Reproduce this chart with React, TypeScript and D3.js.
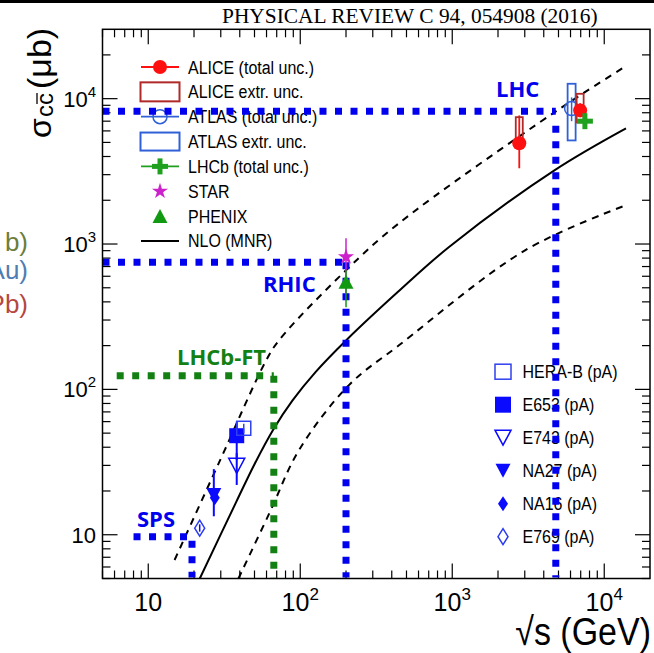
import React from 'react';
import * as d3 from 'd3';

const W = 654;
const H = 653;

// NLO (MNR) curves: [sqrt(s) GeV, sigma_cc µb]
const nloCentral: [number, number][] = [[21.8, 4.98], [38, 16.9], [50.1, 30.7], [66.5, 53], [89, 84], [126, 131.5], [200, 217], [436, 465], [948, 950], [4700, 3210], [13900, 6240]];
const nloUpper: [number, number][] = [[14.9, 6.7], [29.4, 31.8], [59.8, 159], [72.8, 219], [200, 660], [446, 1390], [4780, 8150], [13700, 16600]];
const nloLower: [number, number][] = [[39.2, 5.0], [62.7, 14.1], [98.4, 38.4], [209, 107], [446, 201], [3030, 908], [13900, 1850]];

// Collider data
const aliceData = [
  { s: 2760, v: 4930, lo: 3320, hi: 7670, bLo: 4650, bHi: 7460 },
  { s: 6940, v: 8300, lo: 7500, hi: 9300, bLo: 6860, bHi: 10800 },
];
const atlasData = [{ s: 6100, v: 8560, lo: 7000, hi: 10200, bLo: 5160, bHi: 12660 }];
const lhcbData = [{ s: 7460, v: 7000, lo: 6300, hi: 7800 }];
const starData = [{ s: 200, v: 815, lo: 459, hi: 1096 }];
const phenixData = [{ s: 200, v: 549, lo: 368, hi: 660 }];

// Fixed-target pA data
const heraB = [{ s: 42.5, v: 54, lo: 50, hi: 58 }];
const e653 = [{ s: 38.2, v: 48, lo: 32.7, hi: 60 }];
const e743 = [{ s: 38.2, v: 29.8, lo: 22, hi: 36.4 }];
const na27 = [{ s: 27, v: 18.8, lo: 13.4, hi: 28.3 }];
const na16 = [{ s: 27.4, v: 18, lo: 16, hi: 20 }];
const e769 = [{ s: 21.8, v: 11.1, lo: 10.5, hi: 11.8 }];

// Energy-regime guide lines
const guideNames = ['LHC', 'RHIC', 'LHCb-FT', 'SPS'];
const guideLeft = [5, 5, 6.2, 8];
const guideEnergy = [4800, 200, 67, 19.4];
const guideSigma = [8200, 750, 124, 9.7];
const guideVTop = [6500, 750, 124, 9.1];

const legend1 = ['ALICE (total unc.)', 'ALICE extr. unc.', 'ATLAS (total unc.)', 'ATLAS extr. unc.', 'LHCb (total unc.)', 'STAR', 'PHENIX', 'NLO (MNR)'];
const legend2 = ['HERA-B (pA)', 'E653 (pA)', 'E743 (pA)', 'NA27 (pA)', 'NA16 (pA)', 'E769 (pA)'];

const sideTexts = ['b)', '(Au-Au)', '(Pb-Pb)'];

const xMajor = [10, 100, 1000, 10000];
const yMajor = [10, 100, 1000, 10000];
const xTickExp = ['', '2', '3', '4'];
const yTickExp = ['', '2', '3', '4'];

const RED = '#ff1010';
const DARKRED = '#b02a2a';
const ATLASBLUE = '#3060d8';
const LHCBGREEN = '#1fa01f';
const STARMAG = '#cc22cc';
const PHENIXGREEN = '#119911';
const PABLUE = '#0a0aff';
const GBLUE = '#0000ee';
const GGREEN = '#138013';
const SANS = '"Liberation Sans", Arial, Helvetica, sans-serif';

const triPath = (cx: number, cy: number, w: number, h: number, down: boolean) =>
  down
    ? `M${cx - w / 2},${cy - h / 2}L${cx + w / 2},${cy - h / 2}L${cx},${cy + h / 2}Z`
    : `M${cx - w / 2},${cy + h / 2}L${cx + w / 2},${cy + h / 2}L${cx},${cy - h / 2}Z`;
const diaPath = (cx: number, cy: number, w: number, h: number) =>
  `M${cx},${cy - h / 2}L${cx + w / 2},${cy}L${cx},${cy + h / 2}L${cx - w / 2},${cy}Z`;

function Marker({ kind, cx, cy }: { kind: string; cx: number; cy: number }) {
  switch (kind) {
    case 'alice':
      return <circle cx={cx} cy={cy} r={7} fill={RED} />;
    case 'atlas':
      return <circle cx={cx} cy={cy} r={7} fill="none" stroke={ATLASBLUE} strokeWidth={1.5} />;
    case 'lhcb':
      return (
        <g stroke={LHCBGREEN} strokeWidth={5}>
          <line x1={cx - 8} x2={cx + 8} y1={cy} y2={cy} />
          <line x1={cx} x2={cx} y1={cy - 8} y2={cy + 8} />
        </g>
      );
    case 'star':
      return <path d={d3.symbol().type(d3.symbolStar).size(80)()!} transform={`translate(${cx},${cy})`} fill={STARMAG} />;
    case 'phenix':
      return <path d={triPath(cx, cy, 15, 14, false)} fill={PHENIXGREEN} />;
    case 'heraB':
      return <rect x={cx - 7} y={cy - 7} width={14} height={14} fill="none" stroke="#3040f0" strokeWidth={1.5} />;
    case 'heraBLeg':
      return <rect x={cx - 8} y={cy - 7.5} width={16} height={15} fill="none" stroke="#3040f0" strokeWidth={1.5} />;
    case 'e653':
      return <rect x={cx - 7.5} y={cy - 7.5} width={15} height={15} fill={PABLUE} />;
    case 'e653Leg':
      return <rect x={cx - 8} y={cy - 8} width={16} height={16} fill={PABLUE} />;
    case 'e743':
      return <path d={triPath(cx, cy, 16, 15, true)} fill="none" stroke={PABLUE} strokeWidth={1.5} />;
    case 'na27':
      return <path d={triPath(cx, cy, 15, 14, true)} fill={PABLUE} />;
    case 'na16':
      return <path d={diaPath(cx, cy, 10, 15)} fill={PABLUE} />;
    case 'e769':
      return <path d={diaPath(cx, cy, 10, 16)} fill="none" stroke="#2a3cf0" strokeWidth={1.5} />;
    default:
      return null;
  }
}

export default function App() {
  const x = d3.scaleLog().domain([5, 2e4]).range([102.5, 650]);
  const y = d3.scaleLog().domain([5, 3e4]).range([578.5, 29.3]);
  const [x0, x1] = x.range();
  const [y0, y1] = y.range();
  const line = d3
    .line<[number, number]>()
    .x((d) => x(d[0]))
    .y((d) => y(d[1]))
    .curve(d3.curveCatmullRom.alpha(0.5));

  const xMinor: number[] = [];
  const yMinor: number[] = [];
  for (const dec of [1, 10, 100, 1000, 10000]) {
    for (let m = 2; m <= 9; m++) {
      const v = m * dec;
      if (v > 5 && v < 2e4) xMinor.push(v);
      if (v > 5 && v < 3e4) yMinor.push(v);
    }
  }
  xMinor.push(5);
  yMinor.push(5);

  const MAJ = 15;
  const MIN = 8;

  const errBar = (d: { s: number; lo: number; hi: number }, color: string, w = 2) => (
    <line x1={x(d.s)} x2={x(d.s)} y1={y(d.lo)} y2={y(d.hi)} stroke={color} strokeWidth={w} />
  );

  const leg1Kinds = ['alice', 'aliceBox', 'atlas', 'atlasBox', 'lhcb', 'star', 'phenix', 'nlo'];
  const leg1Line = [RED, null, ATLASBLUE, null, LHCBGREEN, null, null, '#000'];
  const leg2Kinds = ['heraBLeg', 'e653Leg', 'e743', 'na27', 'na16', 'e769'];

  const guideColors = [GBLUE, GBLUE, GGREEN, GBLUE];
  const labelPos = [
    [496, 97],
    [263, 291.5],
    [177, 365],
    [137, 527],
  ];
  const sideColors = ['#6b7d3b', '#4f7db3', '#b5473f'];
  const sideY = [251, 279, 313];

  return (
    <svg width={W} height={H} style={{ position: 'absolute', left: 0, top: 0, background: '#fff' }} fontFamily={SANS}>
      <defs>
        <clipPath id="plotClip">
          <rect x={x0} y={y1} width={x1 - x0} height={y0 - y1} />
        </clipPath>
      </defs>
      <rect x={0} y={0} width={W} height={H} fill="#fff" />
      <rect x={0} y={0} width={W} height={3} fill="#000" />
      <text x={222} y={23} fontFamily='"Liberation Serif", "Times New Roman", serif' fontSize={21.4} fill="#000">
        PHYSICAL REVIEW C 94, 054908 (2016)
      </text>

      {/* cut-off neighbouring panel legend */}
      {sideTexts.map((t, i) => (
        <text key={'side' + i} x={28} y={sideY[i]} textAnchor="end" fontSize={26} fill={sideColors[i]}>
          {t}
        </text>
      ))}

      {/* ticks */}
      <g stroke="#000" strokeWidth={1.2}>
        {xMajor.map((v) => (
          <g key={'xM' + v}>
            <line x1={x(v)} x2={x(v)} y1={y0} y2={y0 - MAJ} />
            <line x1={x(v)} x2={x(v)} y1={y1} y2={y1 + MAJ} />
          </g>
        ))}
        {xMinor.map((v) => (
          <g key={'xm' + v}>
            <line x1={x(v)} x2={x(v)} y1={y0} y2={y0 - MIN} />
            <line x1={x(v)} x2={x(v)} y1={y1} y2={y1 + MIN} />
          </g>
        ))}
        {yMajor.map((v) => (
          <g key={'yM' + v}>
            <line x1={x0} x2={x0 + MAJ} y1={y(v)} y2={y(v)} />
            <line x1={x1} x2={x1 - MAJ} y1={y(v)} y2={y(v)} />
          </g>
        ))}
        {yMinor.map((v) => (
          <g key={'ym' + v}>
            <line x1={x0} x2={x0 + MIN} y1={y(v)} y2={y(v)} />
            <line x1={x1} x2={x1 - MIN} y1={y(v)} y2={y(v)} />
          </g>
        ))}
      </g>

      {/* tick labels */}
      {xMajor.map((v, i) => (
        <text key={'xl' + v} x={x(v)} y={611} textAnchor="middle" fontSize={25} fill="#000">
          <tspan>10</tspan>
          {xTickExp[i] && (
            <tspan dy={-11} fontSize={17}>
              {xTickExp[i]}
            </tspan>
          )}
        </text>
      ))}
      {yMajor.map((v, i) => (
        <text key={'yl' + v} x={96} y={y(v) + 8} textAnchor="end" fontSize={22} fill="#000">
          <tspan>10</tspan>
          {yTickExp[i] && (
            <tspan dy={-10} fontSize={15}>
              {yTickExp[i]}
            </tspan>
          )}
        </text>
      ))}

      {/* axis titles */}
      <text transform="translate(651,645) scale(1,1.15)" textAnchor="end" fontSize={34} fill="#000">
        √s (GeV)
      </text>
      <g transform="translate(51,138) rotate(-90)" fill="#000">
        <text x={0} y={0} fontSize={32}>σ</text>
        <text x={21} y={2} fontSize={24}>cc</text>
        <line x1={34} x2={45} y1={-14} y2={-14} stroke="#000" strokeWidth={1.3} />
        <text x={49} y={0} fontSize={34}>(μb)</text>
      </g>

      {/* NLO curves */}
      <g clipPath="url(#plotClip)" fill="none" stroke="#000">
        <path d={line(nloCentral)!} strokeWidth={2} />
        <path d={line(nloUpper)!} strokeWidth={2} strokeDasharray="7,6" />
        <path d={line(nloLower)!} strokeWidth={2} strokeDasharray="7,6" />
      </g>

      {/* legend 1 */}
      {legend1.map((t, i) => {
        const cy = 67 + i * 24.85;
        const k = leg1Kinds[i];
        const lc = leg1Line[i];
        return (
          <g key={'l1' + i}>
            {lc && <line x1={141} x2={179} y1={cy} y2={cy} stroke={lc} strokeWidth={k === 'nlo' ? 2 : 1.8} />}
            {k === 'aliceBox' && <rect x={140.5} y={cy - 9.5} width={39} height={19} fill="none" stroke={DARKRED} strokeWidth={2} />}
            {k === 'atlasBox' && <rect x={140.5} y={cy - 9} width={39} height={18} fill="none" stroke={ATLASBLUE} strokeWidth={2} />}
            <Marker kind={k} cx={160} cy={cy} />
            <text transform={`translate(188,${cy + 6.5}) scale(1,1.1)`} fontSize={16} fill="#000">
              {t}
            </text>
          </g>
        );
      })}

      {/* legend 2 */}
      {legend2.map((t, i) => {
        const cy = 371.7 + i * 33;
        return (
          <g key={'l2' + i}>
            <Marker kind={leg2Kinds[i]} cx={503} cy={cy} />
            <text transform={`translate(522.5,${cy + 6.5}) scale(1,1.1)`} fontSize={16} fill="#000">
              {t}
            </text>
          </g>
        );
      })}

      {/* guide lines */}
      {guideNames.map((n, i) => (
        <g key={'g' + n} stroke={guideColors[i]} strokeWidth={7} fill="none">
          <line x1={x(guideLeft[i])} x2={x(guideEnergy[i])} y1={y(guideSigma[i])} y2={y(guideSigma[i])} strokeDasharray="7,8.5" />
          <line x1={x(guideEnergy[i])} x2={x(guideEnergy[i])} y1={y(guideVTop[i])} y2={y0 - 1} strokeDasharray="7,8.5" />
        </g>
      ))}
      {guideNames.map((n, i) => (
        <text
          key={'gl' + n}
          x={labelPos[i][0]}
          y={labelPos[i][1]}
          fontFamily='"Open Sans", sans-serif'
          fontWeight={700}
          fontSize={22}
          fill={guideColors[i]}
        >
          {n}
        </text>
      ))}

      {/* data: pA fixed target */}
      {e769.map((d, i) => (
        <g key={'e769' + i}>
          {errBar(d, PABLUE, 1.5)}
          <Marker kind="e769" cx={x(d.s)} cy={y(d.v)} />
        </g>
      ))}
      {na16.map((d, i) => (
        <g key={'na16' + i}>
          <Marker kind="na16" cx={x(d.s)} cy={y(d.v)} />
        </g>
      ))}
      {na27.map((d, i) => (
        <g key={'na27' + i}>
          {errBar(d, PABLUE)}
          <Marker kind="na27" cx={x(d.s)} cy={y(d.v)} />
        </g>
      ))}
      {e743.map((d, i) => (
        <g key={'e743' + i}>
          {errBar(d, PABLUE)}
          <Marker kind="e743" cx={x(d.s)} cy={y(d.v)} />
        </g>
      ))}
      {e653.map((d, i) => (
        <g key={'e653' + i}>
          {errBar(d, PABLUE)}
          <Marker kind="e653" cx={x(d.s)} cy={y(d.v)} />
        </g>
      ))}
      {heraB.map((d, i) => (
        <g key={'hb' + i}>
          {errBar(d, '#3040f0', 1.5)}
          <Marker kind="heraB" cx={x(d.s)} cy={y(d.v)} />
        </g>
      ))}

      {/* data: RHIC */}
      {starData.map((d, i) => (
        <g key={'star' + i}>
          {errBar(d, STARMAG, 1.5)}
          <Marker kind="star" cx={x(d.s)} cy={y(d.v)} />
        </g>
      ))}
      {phenixData.map((d, i) => (
        <g key={'ph' + i}>
          {errBar(d, PHENIXGREEN, 1.5)}
          <Marker kind="phenix" cx={x(d.s)} cy={y(d.v)} />
        </g>
      ))}

      {/* data: LHC */}
      {atlasData.map((d, i) => (
        <g key={'atlas' + i}>
          <rect x={x(d.s) - 4} y={y(d.bHi)} width={8} height={y(d.bLo) - y(d.bHi)} fill="none" stroke={ATLASBLUE} strokeWidth={1.8} />
          {errBar(d, ATLASBLUE, 1.5)}
          <Marker kind="atlas" cx={x(d.s)} cy={y(d.v)} />
        </g>
      ))}
      {aliceData.map((d, i) => (
        <g key={'alice' + i}>
          {errBar(d, RED, 1.8)}
          <rect x={x(d.s) - 3.5} y={y(d.bHi)} width={7} height={y(d.bLo) - y(d.bHi)} fill="none" stroke={DARKRED} strokeWidth={1.8} />
          <Marker kind="alice" cx={x(d.s)} cy={y(d.v)} />
        </g>
      ))}
      {lhcbData.map((d, i) => (
        <g key={'lhcb' + i}>
          {errBar(d, LHCBGREEN, 1.5)}
          <Marker kind="lhcb" cx={x(d.s)} cy={y(d.v)} />
        </g>
      ))}

      {/* frame */}
      <rect x={x0} y={y1} width={x1 - x0} height={y0 - y1} fill="none" stroke="#000" strokeWidth={1.5} />
    </svg>
  );
}
